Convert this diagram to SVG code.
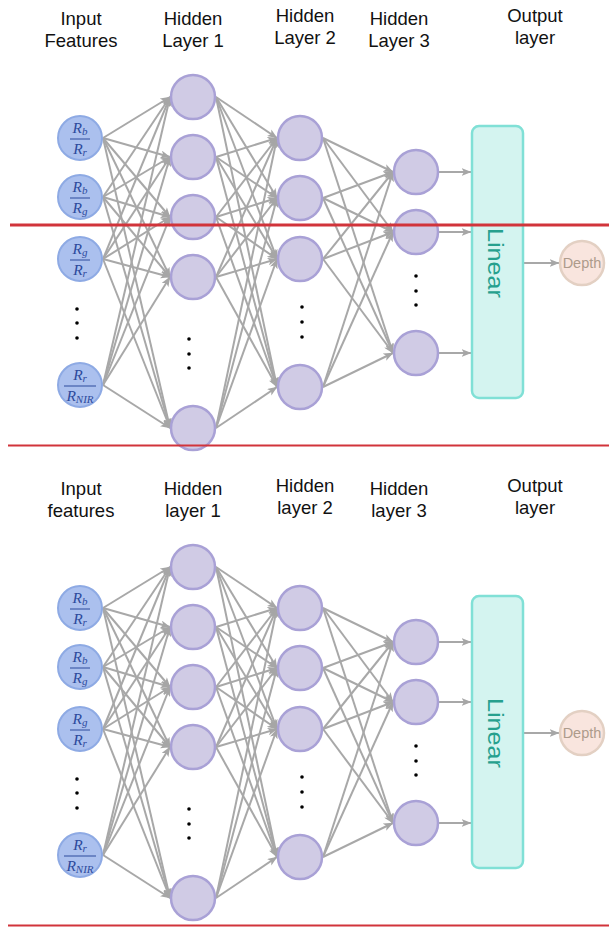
<svg xmlns="http://www.w3.org/2000/svg" width="609" height="927" viewBox="0 0 609 927">
<style>
.lbl{font-family:"Liberation Sans",Arial,sans-serif;font-size:18.5px;fill:#111;text-anchor:middle}
.inp{fill:#abc0ee;stroke:#8eaae4;stroke-width:2}
.hid{fill:#d0cbe5;stroke:#a9a1d6;stroke-width:2.5}
.fr{font-family:"Liberation Serif","Times New Roman",serif;font-style:italic;font-size:15.5px;fill:#2d4a9c;text-anchor:middle}
.sub{font-size:11px}
.bar{stroke:#2d4a9c;stroke-width:1}
.dot{fill:#000}
.lin{fill:#d4f4f0;stroke:#80e0d6;stroke-width:2.5}
.lintx{font-family:"Liberation Sans",Arial,sans-serif;font-size:22px;fill:#26a08e;text-anchor:middle}
.dep{fill:#f9e5de;stroke:#e3d0c3;stroke-width:2.5}
.deptx{font-family:"Liberation Sans",Arial,sans-serif;font-size:14.5px;fill:#ad9b8b;text-anchor:middle}
.red{stroke:#d1343b}
</style>
<defs>
<marker id="ah" viewBox="0 0 10 8" refX="9.5" refY="4" markerWidth="10" markerHeight="8" markerUnits="userSpaceOnUse" orient="auto">
<path d="M0,0 L10,4 L0,8 L2.5,4 z" fill="#a6a6a6"/>
</marker>
</defs>

<g id="connectors">
<g id="conn-top" stroke="#a8a8a8" stroke-width="2" marker-end="url(#ah)" fill="none">
<line x1="103" y1="138" x2="170" y2="97"/><line x1="103" y1="138" x2="170" y2="157"/><line x1="103" y1="138" x2="170" y2="217"/><line x1="103" y1="138" x2="170" y2="277"/><line x1="103" y1="138" x2="170" y2="428"/>
<line x1="103" y1="197" x2="170" y2="97"/><line x1="103" y1="197" x2="170" y2="157"/><line x1="103" y1="197" x2="170" y2="217"/><line x1="103" y1="197" x2="170" y2="277"/><line x1="103" y1="197" x2="170" y2="428"/>
<line x1="103" y1="259" x2="170" y2="97"/><line x1="103" y1="259" x2="170" y2="157"/><line x1="103" y1="259" x2="170" y2="217"/><line x1="103" y1="259" x2="170" y2="277"/><line x1="103" y1="259" x2="170" y2="428"/>
<line x1="103" y1="385" x2="170" y2="97"/><line x1="103" y1="385" x2="170" y2="157"/><line x1="103" y1="385" x2="170" y2="217"/><line x1="103" y1="385" x2="170" y2="277"/><line x1="103" y1="385" x2="170" y2="428"/>
<line x1="216" y1="97" x2="277" y2="138"/><line x1="216" y1="97" x2="277" y2="198"/><line x1="216" y1="97" x2="277" y2="259"/><line x1="216" y1="97" x2="277" y2="387"/>
<line x1="216" y1="157" x2="277" y2="138"/><line x1="216" y1="157" x2="277" y2="198"/><line x1="216" y1="157" x2="277" y2="259"/><line x1="216" y1="157" x2="277" y2="387"/>
<line x1="216" y1="217" x2="277" y2="138"/><line x1="216" y1="217" x2="277" y2="198"/><line x1="216" y1="217" x2="277" y2="259"/><line x1="216" y1="217" x2="277" y2="387"/>
<line x1="216" y1="277" x2="277" y2="138"/><line x1="216" y1="277" x2="277" y2="198"/><line x1="216" y1="277" x2="277" y2="259"/><line x1="216" y1="277" x2="277" y2="387"/>
<line x1="216" y1="428" x2="277" y2="138"/><line x1="216" y1="428" x2="277" y2="198"/><line x1="216" y1="428" x2="277" y2="259"/><line x1="216" y1="428" x2="277" y2="387"/>
<line x1="323" y1="138" x2="393" y2="172"/><line x1="323" y1="138" x2="393" y2="232"/><line x1="323" y1="138" x2="393" y2="353"/>
<line x1="323" y1="198" x2="393" y2="172"/><line x1="323" y1="198" x2="393" y2="232"/><line x1="323" y1="198" x2="393" y2="353"/>
<line x1="323" y1="259" x2="393" y2="172"/><line x1="323" y1="259" x2="393" y2="232"/><line x1="323" y1="259" x2="393" y2="353"/>
<line x1="323" y1="387" x2="393" y2="172"/><line x1="323" y1="387" x2="393" y2="232"/><line x1="323" y1="387" x2="393" y2="353"/>
<line x1="439" y1="172" x2="471" y2="172"/><line x1="439" y1="232" x2="471" y2="232"/><line x1="439" y1="353" x2="471" y2="353"/>
<line x1="524" y1="263" x2="559" y2="263"/>
</g>
<use id="conn-bottom" href="#conn-top" transform="translate(0,470)"/>
</g>

<g id="labels-top">
<text class="lbl" x="81" y="25">Input</text><text class="lbl" x="81" y="47">Features</text>
<text class="lbl" x="193" y="25">Hidden</text><text class="lbl" x="193" y="47">Layer 1</text>
<text class="lbl" x="305" y="22">Hidden</text><text class="lbl" x="305" y="44">Layer 2</text>
<text class="lbl" x="399" y="25">Hidden</text><text class="lbl" x="399" y="47">Layer 3</text>
<text class="lbl" x="535" y="22">Output</text><text class="lbl" x="535" y="44">layer</text>
</g>
<g id="labels-bottom">
<text class="lbl" x="81" y="495">Input</text><text class="lbl" x="81" y="517">features</text>
<text class="lbl" x="193" y="495">Hidden</text><text class="lbl" x="193" y="517">layer 1</text>
<text class="lbl" x="305" y="492">Hidden</text><text class="lbl" x="305" y="514">layer 2</text>
<text class="lbl" x="399" y="495">Hidden</text><text class="lbl" x="399" y="517">layer 3</text>
<text class="lbl" x="535" y="492">Output</text><text class="lbl" x="535" y="514">layer</text>
</g>

<g id="top-network">
<g id="in1"><circle class="inp" cx="80" cy="138" r="22"/><text class="fr" x="80" y="133">R<tspan class="sub" dy="2">b</tspan></text><line class="bar" x1="70" y1="139" x2="90" y2="139"/><text class="fr" x="80" y="154">R<tspan class="sub" dy="2">r</tspan></text></g>
<g id="in2"><circle class="inp" cx="80" cy="197" r="22"/><text class="fr" x="80" y="192">R<tspan class="sub" dy="2">b</tspan></text><line class="bar" x1="70" y1="198" x2="90" y2="198"/><text class="fr" x="80" y="213">R<tspan class="sub" dy="2">g</tspan></text></g>
<g id="in3"><circle class="inp" cx="80" cy="259" r="22"/><text class="fr" x="80" y="254">R<tspan class="sub" dy="2">g</tspan></text><line class="bar" x1="70" y1="260" x2="90" y2="260"/><text class="fr" x="80" y="275">R<tspan class="sub" dy="2">r</tspan></text></g>
<g id="in-dots"><circle class="dot" cx="77" cy="309" r="1.8"/><circle class="dot" cx="77" cy="323" r="1.8"/><circle class="dot" cx="77" cy="338" r="1.8"/></g>
<g id="in4"><circle class="inp" cx="80" cy="385" r="22"/><text class="fr" x="80" y="380">R<tspan class="sub" dy="2">r</tspan></text><line class="bar" x1="64" y1="386" x2="96" y2="386"/><text class="fr" x="80" y="401">R<tspan class="sub" dy="2">NIR</tspan></text></g>

<g id="h1n1"><circle class="hid" cx="193" cy="97" r="22"/></g>
<g id="h1n2"><circle class="hid" cx="193" cy="157" r="22"/></g>
<g id="h1n3"><circle class="hid" cx="193" cy="217" r="22"/></g>
<g id="h1n4"><circle class="hid" cx="193" cy="277" r="22"/></g>
<g id="h1-dots"><circle class="dot" cx="189" cy="339" r="1.8"/><circle class="dot" cx="189" cy="354" r="1.8"/><circle class="dot" cx="189" cy="368" r="1.8"/></g>
<g id="h1n5"><circle class="hid" cx="193" cy="428" r="22"/></g>

<g id="h2n1"><circle class="hid" cx="300" cy="138" r="22"/></g>
<g id="h2n2"><circle class="hid" cx="300" cy="198" r="22"/></g>
<g id="h2n3"><circle class="hid" cx="300" cy="259" r="22"/></g>
<g id="h2-dots"><circle class="dot" cx="302" cy="307" r="1.8"/><circle class="dot" cx="302" cy="322" r="1.8"/><circle class="dot" cx="302" cy="337" r="1.8"/></g>
<g id="h2n4"><circle class="hid" cx="300" cy="387" r="22"/></g>

<g id="h3n1"><circle class="hid" cx="416" cy="172" r="22"/></g>
<g id="h3n2"><circle class="hid" cx="416" cy="232" r="22"/></g>
<g id="h3-dots"><circle class="dot" cx="416" cy="276" r="1.8"/><circle class="dot" cx="416" cy="291" r="1.8"/><circle class="dot" cx="416" cy="305" r="1.8"/></g>
<g id="h3n3"><circle class="hid" cx="416" cy="353" r="22"/></g>

<g id="linear"><rect class="lin" x="472" y="126" width="51" height="272" rx="7"/><text class="lintx" transform="translate(488,263) rotate(90)" textLength="70" lengthAdjust="spacingAndGlyphs">Linear</text></g>
<g id="depth"><circle class="dep" cx="582" cy="263" r="22"/><text class="deptx" x="582" y="268">Depth</text></g>
</g>

<g id="bottom-network" transform="translate(0,470)">
<g id="b-in1"><circle class="inp" cx="80" cy="138" r="22"/><text class="fr" x="80" y="133">R<tspan class="sub" dy="2">b</tspan></text><line class="bar" x1="70" y1="139" x2="90" y2="139"/><text class="fr" x="80" y="154">R<tspan class="sub" dy="2">r</tspan></text></g>
<g id="b-in2"><circle class="inp" cx="80" cy="197" r="22"/><text class="fr" x="80" y="192">R<tspan class="sub" dy="2">b</tspan></text><line class="bar" x1="70" y1="198" x2="90" y2="198"/><text class="fr" x="80" y="213">R<tspan class="sub" dy="2">g</tspan></text></g>
<g id="b-in3"><circle class="inp" cx="80" cy="259" r="22"/><text class="fr" x="80" y="254">R<tspan class="sub" dy="2">g</tspan></text><line class="bar" x1="70" y1="260" x2="90" y2="260"/><text class="fr" x="80" y="275">R<tspan class="sub" dy="2">r</tspan></text></g>
<g id="b-in-dots"><circle class="dot" cx="77" cy="309" r="1.8"/><circle class="dot" cx="77" cy="323" r="1.8"/><circle class="dot" cx="77" cy="338" r="1.8"/></g>
<g id="b-in4"><circle class="inp" cx="80" cy="385" r="22"/><text class="fr" x="80" y="380">R<tspan class="sub" dy="2">r</tspan></text><line class="bar" x1="64" y1="386" x2="96" y2="386"/><text class="fr" x="80" y="401">R<tspan class="sub" dy="2">NIR</tspan></text></g>

<g id="b-h1n1"><circle class="hid" cx="193" cy="97" r="22"/></g>
<g id="b-h1n2"><circle class="hid" cx="193" cy="157" r="22"/></g>
<g id="b-h1n3"><circle class="hid" cx="193" cy="217" r="22"/></g>
<g id="b-h1n4"><circle class="hid" cx="193" cy="277" r="22"/></g>
<g id="b-h1-dots"><circle class="dot" cx="189" cy="339" r="1.8"/><circle class="dot" cx="189" cy="354" r="1.8"/><circle class="dot" cx="189" cy="368" r="1.8"/></g>
<g id="b-h1n5"><circle class="hid" cx="193" cy="428" r="22"/></g>

<g id="b-h2n1"><circle class="hid" cx="300" cy="138" r="22"/></g>
<g id="b-h2n2"><circle class="hid" cx="300" cy="198" r="22"/></g>
<g id="b-h2n3"><circle class="hid" cx="300" cy="259" r="22"/></g>
<g id="b-h2-dots"><circle class="dot" cx="302" cy="307" r="1.8"/><circle class="dot" cx="302" cy="322" r="1.8"/><circle class="dot" cx="302" cy="337" r="1.8"/></g>
<g id="b-h2n4"><circle class="hid" cx="300" cy="387" r="22"/></g>

<g id="b-h3n1"><circle class="hid" cx="416" cy="172" r="22"/></g>
<g id="b-h3n2"><circle class="hid" cx="416" cy="232" r="22"/></g>
<g id="b-h3-dots"><circle class="dot" cx="416" cy="276" r="1.8"/><circle class="dot" cx="416" cy="291" r="1.8"/><circle class="dot" cx="416" cy="305" r="1.8"/></g>
<g id="b-h3n3"><circle class="hid" cx="416" cy="353" r="22"/></g>

<g id="b-linear"><rect class="lin" x="472" y="126" width="51" height="272" rx="7"/><text class="lintx" transform="translate(488,263) rotate(90)" textLength="70" lengthAdjust="spacingAndGlyphs">Linear</text></g>
<g id="b-depth"><circle class="dep" cx="582" cy="263" r="22"/><text class="deptx" x="582" y="268">Depth</text></g>
</g>

<g id="red-lines">
<line class="red" x1="10" y1="225" x2="609" y2="225" stroke-width="3"/>
<line class="red" x1="8" y1="445.5" x2="609" y2="445.5" stroke-width="2"/>
<line class="red" x1="8" y1="925.5" x2="609" y2="925.5" stroke-width="2"/>
</g>
</svg>
